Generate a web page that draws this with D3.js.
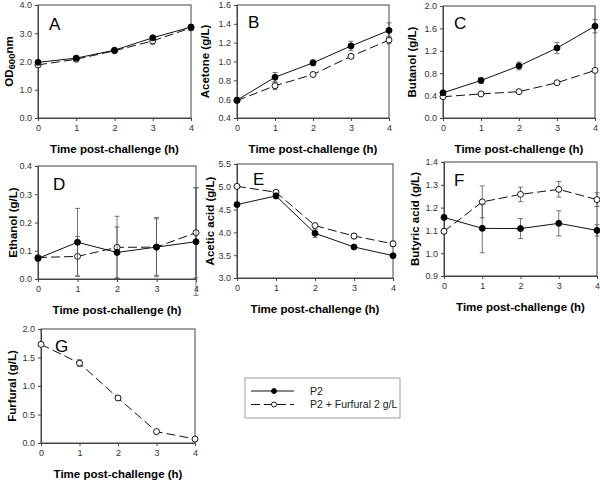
<!DOCTYPE html>
<html><head><meta charset="utf-8">
<script src="https://cdn.jsdelivr.net/npm/d3@7"></script>
<style>body{margin:0;background:#fff}svg{display:block}text{font-family:"Liberation Sans",Arial,sans-serif}</style>
</head><body><svg id="c" width="600" height="480"></svg>
<script>
const time = [0, 1, 2, 3, 4];
const seriesNames = ["P2", "P2 + Furfural 2 g/L"];
// A: OD600nm
const odP2 = [1.97, 2.12, 2.40, 2.84, 3.22];
const odP2Err = [0.06, 0.06, 0.06, 0.08, 0.08];
const odFur = [1.88, 2.08, 2.38, 2.73, 3.19];
const odFurErr = [0.08, 0.08, 0.07, 0.12, 0.08];
// B: Acetone
const acetoneP2 = [0.59, 0.833, 0.986, 1.165, 1.33];
const acetoneP2Err = [0.02, 0.05, 0.03, 0.05, 0.08];
const acetoneFur = [0.585, 0.742, 0.862, 1.055, 1.228];
const acetoneFurErr = [0.02, 0.04, 0.01, 0.02, 0.04];
// C: Butanol
const butanolP2 = [0.45, 0.67, 0.93, 1.25, 1.64];
const butanolP2Err = [0.02, 0.05, 0.07, 0.10, 0.12];
const butanolFur = [0.38, 0.43, 0.47, 0.63, 0.85];
const butanolFurErr = [0.02, 0.02, 0.02, 0.02, 0.02];
// D: Ethanol
const ethanolP2 = [0.073, 0.13, 0.094, 0.113, 0.132];
const ethanolP2Err = [0.005, 0.12, 0.09, 0.105, 0.19];
const ethanolFur = [0.076, 0.08, 0.112, 0.113, 0.164];
const ethanolFurErr = [0.005, 0.07, 0.11, 0.10, 0.16];
// E: Acetic acid
const aceticP2 = [4.61, 4.80, 3.98, 3.68, 3.49];
const aceticP2Err = [0.03, 0.06, 0.09, 0.03, 0.03];
const aceticFur = [5.01, 4.88, 4.15, 3.92, 3.75];
const aceticFurErr = [0.02, 0.04, 0.03, 0.06, 0.06];
// F: Butyric acid
const butyricP2 = [1.157, 1.109, 1.108, 1.131, 1.10];
const butyricP2Err = [0.01, 0.107, 0.044, 0.055, 0.025];
const butyricFur = [1.096, 1.225, 1.258, 1.28, 1.235];
const butyricFurErr = [0.01, 0.07, 0.032, 0.034, 0.03];
// G: Furfural
const furfuralFur = [1.73, 1.40, 0.79, 0.20, 0.07];
const furfuralFurErr = [0.02, 0.06, 0.03, 0.03, 0.02];

const xTicks = [0, 1, 2, 3, 4];
const xTitle = "Time post-challenge (h)";

const panels = [
  {id:"A", title:"OD600nm", dom:[0,4], ticks:[0,1,2,3,4], fmt:".1f", s1:odP2, e1:odP2Err, s2:odFur, e2:odFurErr,
   x0:38, x1:191, y0:118, y1:5, ytx:9, lx:49, ly:30},
  {id:"B", title:"Acetone (g/L)", dom:[0.4,1.6], ticks:[0.4,0.6,0.8,1.0,1.2,1.4,1.6], fmt:".1f", s1:acetoneP2, e1:acetoneP2Err, s2:acetoneFur, e2:acetoneFurErr,
   x0:237, x1:389, y0:118, y1:5, ytx:205, lx:248, ly:28},
  {id:"C", title:"Butanol (g/L)", dom:[0,2], ticks:[0,0.4,0.8,1.2,1.6,2.0], fmt:".1f", s1:butanolP2, e1:butanolP2Err, s2:butanolFur, e2:butanolFurErr,
   x0:443, x1:595, y0:118, y1:6, ytx:412, lx:454, ly:29},
  {id:"D", title:"Ethanol (g/L)", dom:[0,0.4], ticks:[0,0.1,0.2,0.3,0.4], fmt:".1f", s1:ethanolP2, e1:ethanolP2Err, s2:ethanolFur, e2:ethanolFurErr,
   x0:38, x1:196, y0:279, y1:166, ytx:13, lx:53, ly:190},
  {id:"E", title:"Acetic acid (g/L)", dom:[3,5.5], ticks:[3,3.5,4,4.5,5,5.5], fmt:".1f", s1:aceticP2, e1:aceticP2Err, s2:aceticFur, e2:aceticFurErr,
   x0:237, x1:393, y0:278, y1:164, ytx:210, lx:253, ly:185},
  {id:"F", title:"Butyric acid (g/L)", dom:[0.9,1.4], ticks:[0.9,1.0,1.1,1.2,1.3,1.4], fmt:".1f", s1:butyricP2, e1:butyricP2Err, s2:butyricFur, e2:butyricFurErr,
   x0:444, x1:597, y0:276, y1:162, ytx:415, lx:454, ly:186},
  {id:"G", title:"Furfural (g/L)", dom:[0,2], ticks:[0,0.5,1.0,1.5,2.0], fmt:".1f", s1:null, e1:null, s2:furfuralFur, e2:furfuralFurErr,
   x0:41, x1:195, y0:443, y1:329, ytx:12, lx:55, ly:352}
];

const svg = d3.select("#c");
const R = 3;

panels.forEach(p => {
  const g = svg.append("g");
  const x = d3.scaleLinear().domain([0,4]).range([p.x0, p.x1]);
  const y = d3.scaleLinear().domain(p.dom).range([p.y0, p.y1]);
  g.append("rect").attr("x", p.x0).attr("y", p.y1).attr("width", p.x1-p.x0).attr("height", p.y0-p.y1)
    .attr("fill","none").attr("stroke","#444").attr("stroke-width",1);
  const xa = g.append("g").attr("transform",`translate(0,${p.y0})`)
    .call(d3.axisBottom(x).tickValues(xTicks).tickSize(3).tickPadding(4).tickFormat(d3.format("d")));
  const ya = g.append("g").attr("transform",`translate(${p.x0},0)`)
    .call(d3.axisLeft(y).tickValues(p.ticks).tickSize(3).tickPadding(3).tickFormat(d3.format(p.fmt)));
  [xa, ya].forEach(a => {
    a.select(".domain").attr("stroke","#444");
    a.selectAll(".tick line").attr("stroke","#444");
    a.selectAll("text").attr("font-size", 9).attr("fill","#333").attr("font-family","'Liberation Sans',Arial,sans-serif");
  });
  g.append("text").attr("x",(p.x0+p.x1)/2).attr("y",p.y0+35).attr("text-anchor","middle")
    .attr("font-size",11.5).attr("font-weight","bold").text(xTitle);
  const yt = g.append("text").attr("transform",`translate(${p.ytx},${(p.y0+p.y1)/2}) rotate(-90)`)
    .attr("text-anchor","middle").attr("dy","0.35em").attr("font-size",11.5).attr("font-weight","bold");
  if (p.id === "A") {
    yt.append("tspan").text("OD");
    yt.append("tspan").attr("font-size",9.5).attr("dy","1.5").text("600");
    yt.append("tspan").attr("dy","-1.5").text("nm");
  } else yt.text(p.title);
  g.append("text").attr("x",p.lx).attr("y",p.ly).attr("font-size",17).text(p.id);

  const line = d3.line().x((d,i)=>x(time[i])).y(d=>y(d));
  const drawSeries = (vals, errs, filled) => {
    if (!vals) return;
    vals.forEach((v,i) => {
      const cx = x(time[i]);
      const a = y(v+errs[i]), b = y(v-errs[i]);
      g.append("line").attr("x1",cx).attr("x2",cx).attr("y1",a).attr("y2",b).attr("stroke","#555").attr("stroke-width",0.8);
      [a,b].forEach(yy => g.append("line").attr("x1",cx-2.5).attr("x2",cx+2.5).attr("y1",yy).attr("y2",yy).attr("stroke","#555").attr("stroke-width",0.8));
    });
    g.append("path").attr("d", line(vals)).attr("fill","none").attr("stroke","#111").attr("stroke-width",1)
      .attr("stroke-dasharray", filled ? null : "9,4");
    g.selectAll(null).data(vals).enter().append("circle")
      .attr("cx",(d,i)=>x(time[i])).attr("cy",d=>y(d)).attr("r",R)
      .attr("fill", filled ? "#000" : "#fff").attr("stroke","#000").attr("stroke-width",0.9);
  };
  drawSeries(p.s2, p.e2, false);
  drawSeries(p.s1, p.e1, true);
});

// legend
const lg = svg.append("g");
lg.append("rect").attr("x",245).attr("y",378).attr("width",155).attr("height",40)
  .attr("fill","#fff").attr("stroke","#888").attr("stroke-width",0.8);
seriesNames.forEach((name,i) => {
  const yy = 391 + i*13.5;
  lg.append("line").attr("x1",251).attr("x2",294).attr("y1",yy).attr("y2",yy).attr("stroke","#111")
    .attr("stroke-dasharray", i===0 ? null : "9,4");
  lg.append("circle").attr("cx",274).attr("cy",yy).attr("r",2.5).attr("fill", i===0?"#000":"#fff").attr("stroke","#000").attr("stroke-width",0.9);
  lg.append("text").attr("x",310).attr("y",yy+3.5).attr("font-size",10.5).attr("fill","#222").text(name);
});
</script></body></html>
